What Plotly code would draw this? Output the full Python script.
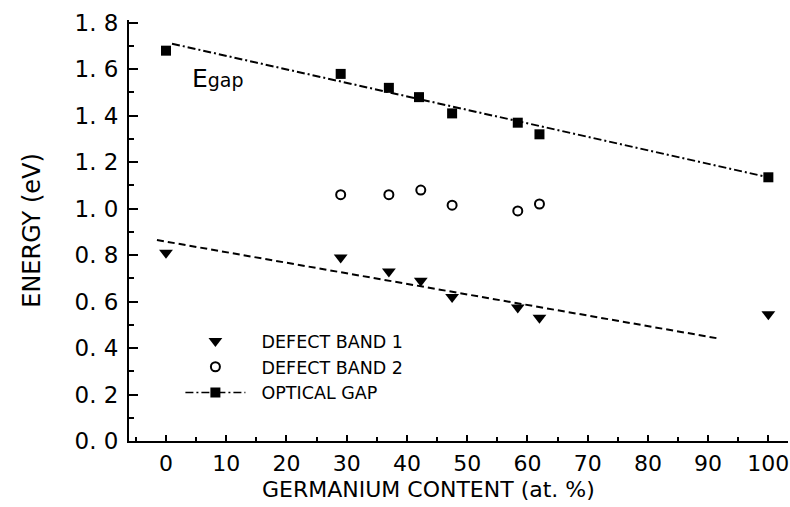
import plotly.graph_objects as go

# Data
ge_gap = [0, 29, 37, 42, 47.5, 58.4, 62, 100]
e_gap = [1.68, 1.58, 1.52, 1.48, 1.41, 1.37, 1.32, 1.135]

ge_db2 = [29, 37, 42.3, 47.5, 58.4, 62]
e_db2 = [1.06, 1.06, 1.08, 1.015, 0.99, 1.02]

ge_db1 = [0, 29, 37, 42.3, 47.5, 58.4, 62, 100]
e_db1 = [0.81, 0.79, 0.73, 0.69, 0.62, 0.575, 0.53, 0.545]

fit_gap_x = [1, 100]
fit_gap_y = [1.71, 1.135]
fit_db1_x = [-1.5, 92]
fit_db1_y = [0.865, 0.44]

x_ticks = [0, 10, 20, 30, 40, 50, 60, 70, 80, 90, 100]
y_ticks = [0.0, 0.2, 0.4, 0.6, 0.8, 1.0, 1.2, 1.4, 1.6, 1.8]
y_tick_text = ["0. 0", "0. 2", "0. 4", "0. 6", "0. 8", "1. 0", "1. 2", "1. 4", "1. 6", "1. 8"]

X_RANGE = [-6.14, 103.26]
Y_RANGE = [0, 1.812]

FONT = "DejaVu Sans"
dashdot = "8px,3px,2px,3px"
NB = "\u00a0\u00a0"

fig = go.Figure()

# fit lines
fig.add_trace(go.Scatter(x=fit_gap_x, y=fit_gap_y, mode="lines",
                         line=dict(color="black", width=2, dash=dashdot),
                         showlegend=False, hoverinfo="skip"))
fig.add_trace(go.Scatter(x=fit_db1_x, y=fit_db1_y, mode="lines",
                         line=dict(color="black", width=2, dash="7px,4px"),
                         showlegend=False, hoverinfo="skip"))

# data
fig.add_trace(go.Scatter(x=ge_db1, y=e_db1, mode="markers", name=NB + "DEFECT BAND 1",
                         marker=dict(symbol="triangle-down", size=12, color="black")))
fig.add_trace(go.Scatter(x=ge_db2, y=e_db2, mode="markers", name=NB + "DEFECT BAND 2",
                         marker=dict(symbol="circle-open", size=9, color="black",
                                     line=dict(width=2, color="black"))))
fig.add_trace(go.Scatter(x=ge_gap, y=e_gap, mode="markers", name="OPTICAL GAP",
                         showlegend=False,
                         marker=dict(symbol="square", size=10, color="black")))
# legend entry for optical gap (line + marker)
fig.add_trace(go.Scatter(x=[None], y=[None], mode="lines+markers", name=NB + "OPTICAL GAP",
                         line=dict(color="black", width=1.5, dash=dashdot),
                         marker=dict(symbol="square", size=10, color="black")))

fig.add_annotation(x=4.0, y=1.56, xref="x", yref="y", xanchor="left", yanchor="middle",
                   text='E<span style="font-size:19px">gap</span>', showarrow=False,
                   font=dict(family=FONT, size=25, color="black"))

# x-axis title (placed slightly left of centre, as in the reference)
fig.add_annotation(x=0.455, y=-0.116, xref="paper", yref="paper", xanchor="center", yanchor="middle",
                   text="GERMANIUM CONTENT (at. %)", showarrow=False,
                   font=dict(family=FONT, size=22, color="black"))

axis_common = dict(showline=True, linecolor="black", linewidth=2,
                   ticks="inside", tickcolor="black", tickwidth=1.5, showgrid=False,
                   zeroline=False, ticklabeloverflow="allow")

fig.update_layout(
    xaxis=dict(range=X_RANGE, tickvals=x_ticks, ticklen=6, ticklabelstandoff=2,
               tickfont=dict(family=FONT, size=22, color="black"),
               minor=dict(dtick=5, tick0=0, ticks="inside", ticklen=4, tickcolor="black", tickwidth=1.5),
               **axis_common),
    yaxis=dict(range=Y_RANGE, tickvals=y_ticks, ticktext=y_tick_text, ticklen=9, ticklabelstandoff=4,
               tickfont=dict(family=FONT, size=23, color="black"),
               minor=dict(dtick=0.1, tick0=0, ticks="inside", ticklen=5, tickcolor="black", tickwidth=1.5),
               title=dict(text="ENERGY (eV)", font=dict(family=FONT, size=24, color="black"), standoff=27),
               **axis_common),
    xaxis2=dict(range=X_RANGE, overlaying="x", side="top", anchor="y", showline=True, linecolor="black",
                linewidth=2, ticks="inside", tickcolor="black", tickwidth=1.5, ticklen=6, tickvals=x_ticks,
                showticklabels=False, showgrid=False, zeroline=False,
                minor=dict(dtick=5, tick0=0, ticks="inside", ticklen=4, tickcolor="black", tickwidth=1.5)),
    yaxis2=dict(range=Y_RANGE, overlaying="y", side="right", anchor="x", showline=True, linecolor="black",
                linewidth=2, ticks="inside", tickcolor="black", tickwidth=1.5, ticklen=9, tickvals=y_ticks,
                showticklabels=False, showgrid=False, zeroline=False,
                minor=dict(dtick=0.1, tick0=0, ticks="inside", ticklen=5, tickcolor="black", tickwidth=1.5)),
    width=790, height=507,
    margin=dict(l=129, r=2, t=20, b=66),
    paper_bgcolor="white", plot_bgcolor="white",
    legend=dict(x=0.078, y=0.28, xanchor="left", yanchor="top",
                bgcolor="rgba(0,0,0,0)", itemwidth=60, tracegroupgap=0,
                font=dict(family=FONT, size=17.5, color="black")),
    font=dict(family=FONT, color="black"),
)

fig.write_html("out.html")
